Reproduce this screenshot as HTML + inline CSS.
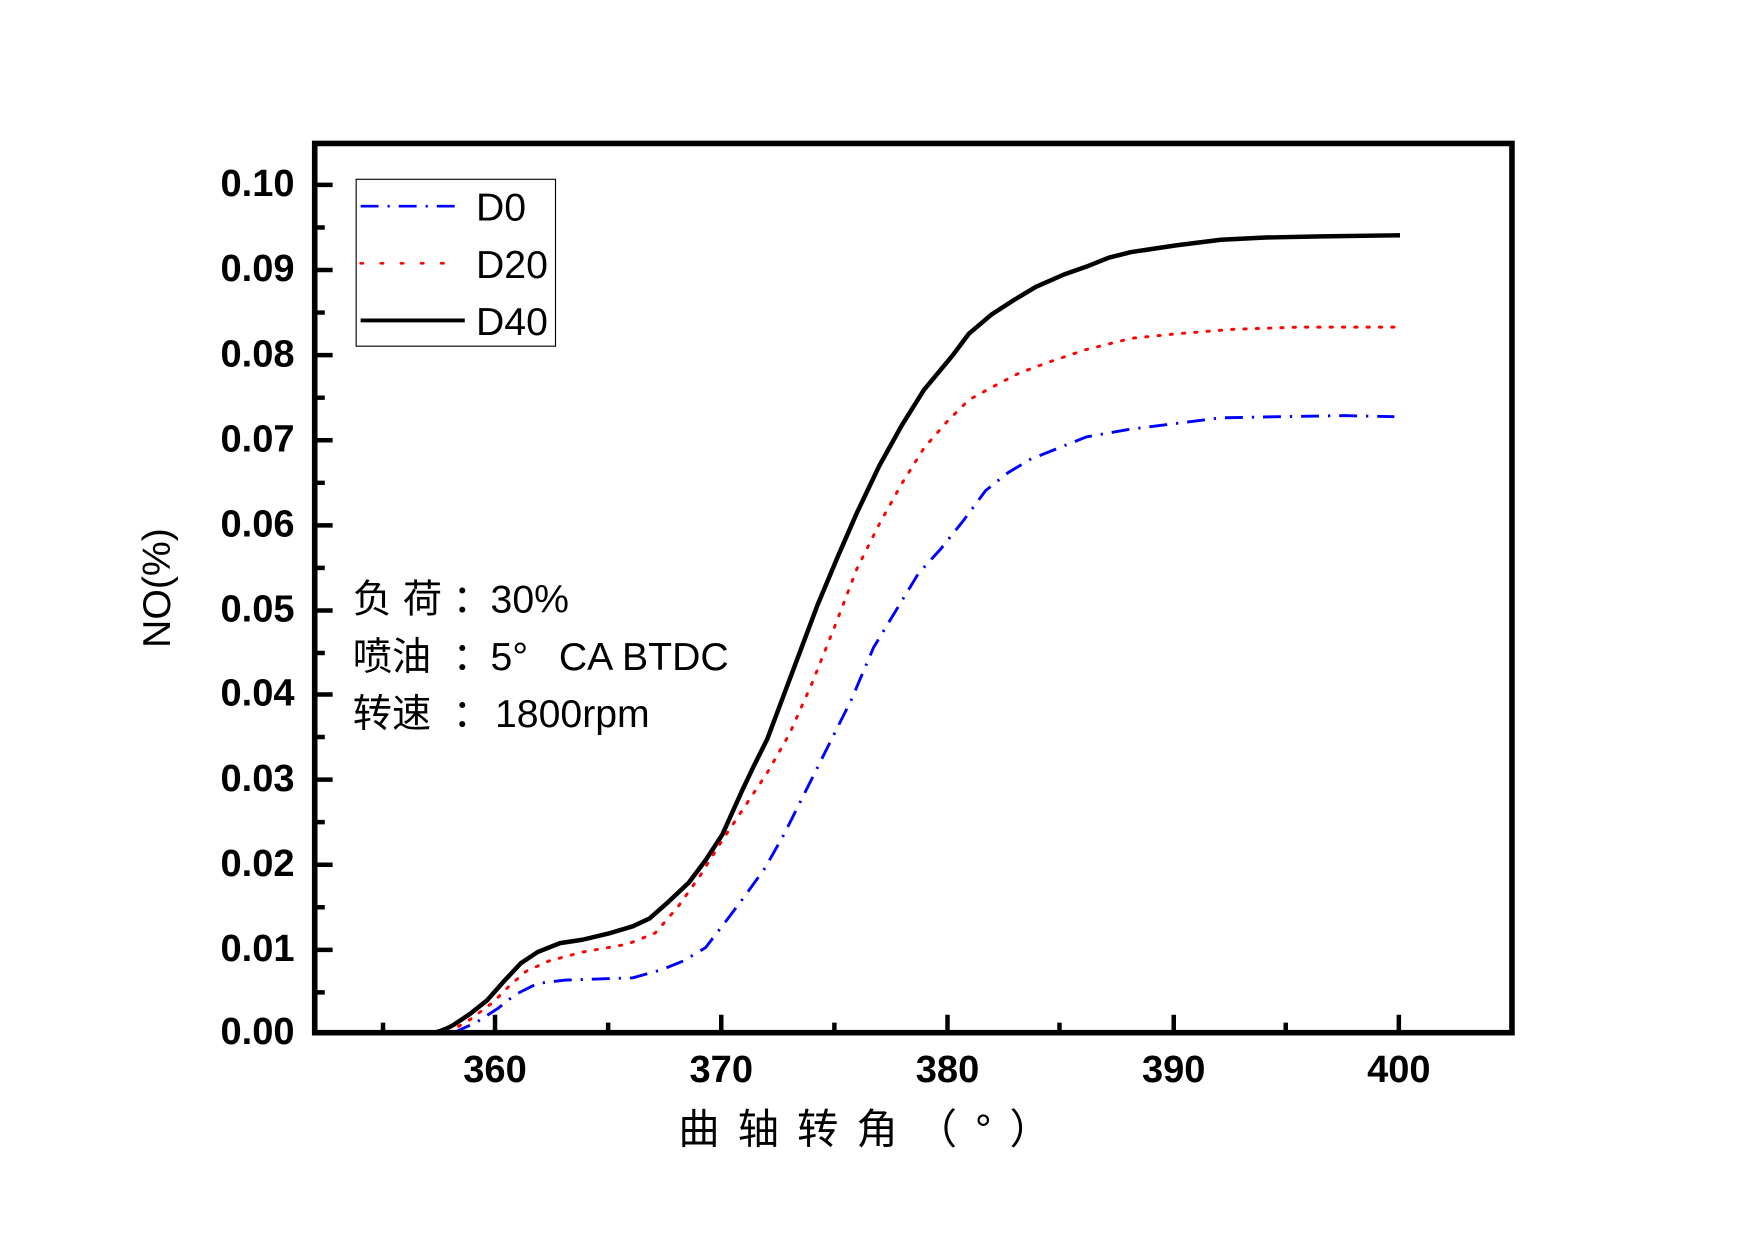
<!DOCTYPE html>
<html><head><meta charset="utf-8"><style>
html,body{margin:0;padding:0;background:#fff;}
svg{display:block;}
text{font-family:"Liberation Sans","Noto Sans CJK SC",sans-serif;}
</style></head><body>
<svg width="1755" height="1240" viewBox="0 0 1567 1107" xmlns="http://www.w3.org/2000/svg">
<rect width="1567" height="1107" fill="#fff"/>
<path fill="none" stroke="#000" stroke-width="4" stroke-linejoin="round" d="M388,922 C395,920 400,918 405,915 L420,905 L435,893 L450,876 L465,860 L480,850 L500,842 L520,839 L545,833 L565,827 L580,820 L597,805 L615,788 L630,768 L645,745 L663,705 L672,686 L685,660 L700,620 L715,580 L730,540 L748,497 L765,458 L785,416 L805,380 L825,348 L850,318 L865,298 L885,281 L905,268 L925,256 L950,245 L970,238 L990,230 L1010,225 L1050,219 L1090,214 L1130,212 L1180,211 L1250,210"/>
<path fill="none" stroke="#f00" stroke-width="2.6" stroke-dasharray="2 9" stroke-linecap="round" d="M400,922 L420,910 L440,895 L455,880 L470,867 L490,858 L520,850 L560,843 L585,833 L605,810 L625,782 L645,750 L665,720 L685,690 L705,655 L725,610 L745,560 L765,508 L785,468 L805,432 L825,400 L845,377 L865,357 L885,346 L910,333 L940,322 L970,312 L1010,302 L1050,298 L1100,294 L1160,292 L1245,292"/>
<path fill="none" stroke="#00f" stroke-width="2.6" stroke-dasharray="16 8 2 8" d="M405,922 L425,913 L445,900 L460,888 L480,878 L505,875 L535,874 L565,873 L590,866 L610,858 L630,846 L650,820 L665,800 L683,775 L700,745 L720,705 L740,665 L760,625 L780,578 L800,545 L820,512 L840,490 L860,465 L880,438 L900,422 L920,410 L945,400 L970,390 L1010,383 L1050,378 L1090,373 L1140,372 L1200,371 L1245,372"/>
<rect x="281" y="128" width="1069" height="794" fill="none" stroke="#000" stroke-width="5"/>
<g stroke="#000" stroke-width="4">
<path d="M281,165h16 M281,241h16 M281,317h16 M281,393h16 M281,469h16 M281,545h16 M281,620h16 M281,696h16 M281,772h16 M281,848h16"/>
<path d="M281,203h9 M281,279h9 M281,355h9 M281,431h9 M281,507h9 M281,583h9 M281,658h9 M281,734h9 M281,810h9 M281,886h9"/>
<path d="M442,922v-16 M644,922v-16 M846,922v-16 M1048,922v-16 M1249,922v-16"/>
<path d="M342,922v-9 M543,922v-9 M745,922v-9 M946,922v-9 M1148,922v-9"/>
</g>
<g font-size="34" font-weight="bold" text-anchor="end">
<text x="263" y="175">0.10</text>
<text x="263" y="251">0.09</text>
<text x="263" y="327">0.08</text>
<text x="263" y="403">0.07</text>
<text x="263" y="479">0.06</text>
<text x="263" y="555">0.05</text>
<text x="263" y="630">0.04</text>
<text x="263" y="706">0.03</text>
<text x="263" y="782">0.02</text>
<text x="263" y="858">0.01</text>
<text x="263" y="932">0.00</text>
</g>
<g font-size="34" font-weight="bold" text-anchor="middle">
<text x="442" y="966">360</text>
<text x="644" y="966">370</text>
<text x="846" y="966">380</text>
<text x="1048" y="966">390</text>
<text x="1249" y="966">400</text>
</g>
<text x="780" y="1021" font-size="37" text-anchor="middle" letter-spacing="16">曲轴转角（°）</text>
<text transform="translate(152,525) rotate(-90)" font-size="35" text-anchor="middle">NO(%)</text>
<rect x="318" y="160" width="178" height="149" fill="#fff" stroke="#000" stroke-width="1"/>
<line x1="322" y1="184" x2="408" y2="184" stroke="#00f" stroke-width="2.4" stroke-dasharray="16 8 2 8"/>
<line x1="322" y1="235" x2="408" y2="235" stroke="#f00" stroke-width="2.4" stroke-dasharray="2 16" stroke-linecap="round"/>
<line x1="322" y1="286" x2="415" y2="286" stroke="#000" stroke-width="3.5"/>
<g font-size="35">
<text x="425" y="197">D0</text>
<text x="425" y="248">D20</text>
<text x="425" y="299">D40</text>
</g>
<g font-size="35">
<text x="315" y="547">负 荷<tspan x="404">：</tspan><tspan x="438">30%</tspan></text>
<text x="315" y="598">喷油<tspan x="404">：</tspan><tspan x="438">5°</tspan><tspan x="499">CA BTDC</tspan></text>
<text x="315" y="649">转速<tspan x="404">：</tspan><tspan x="442">1800rpm</tspan></text>
</g>
</svg>
</body></html>
